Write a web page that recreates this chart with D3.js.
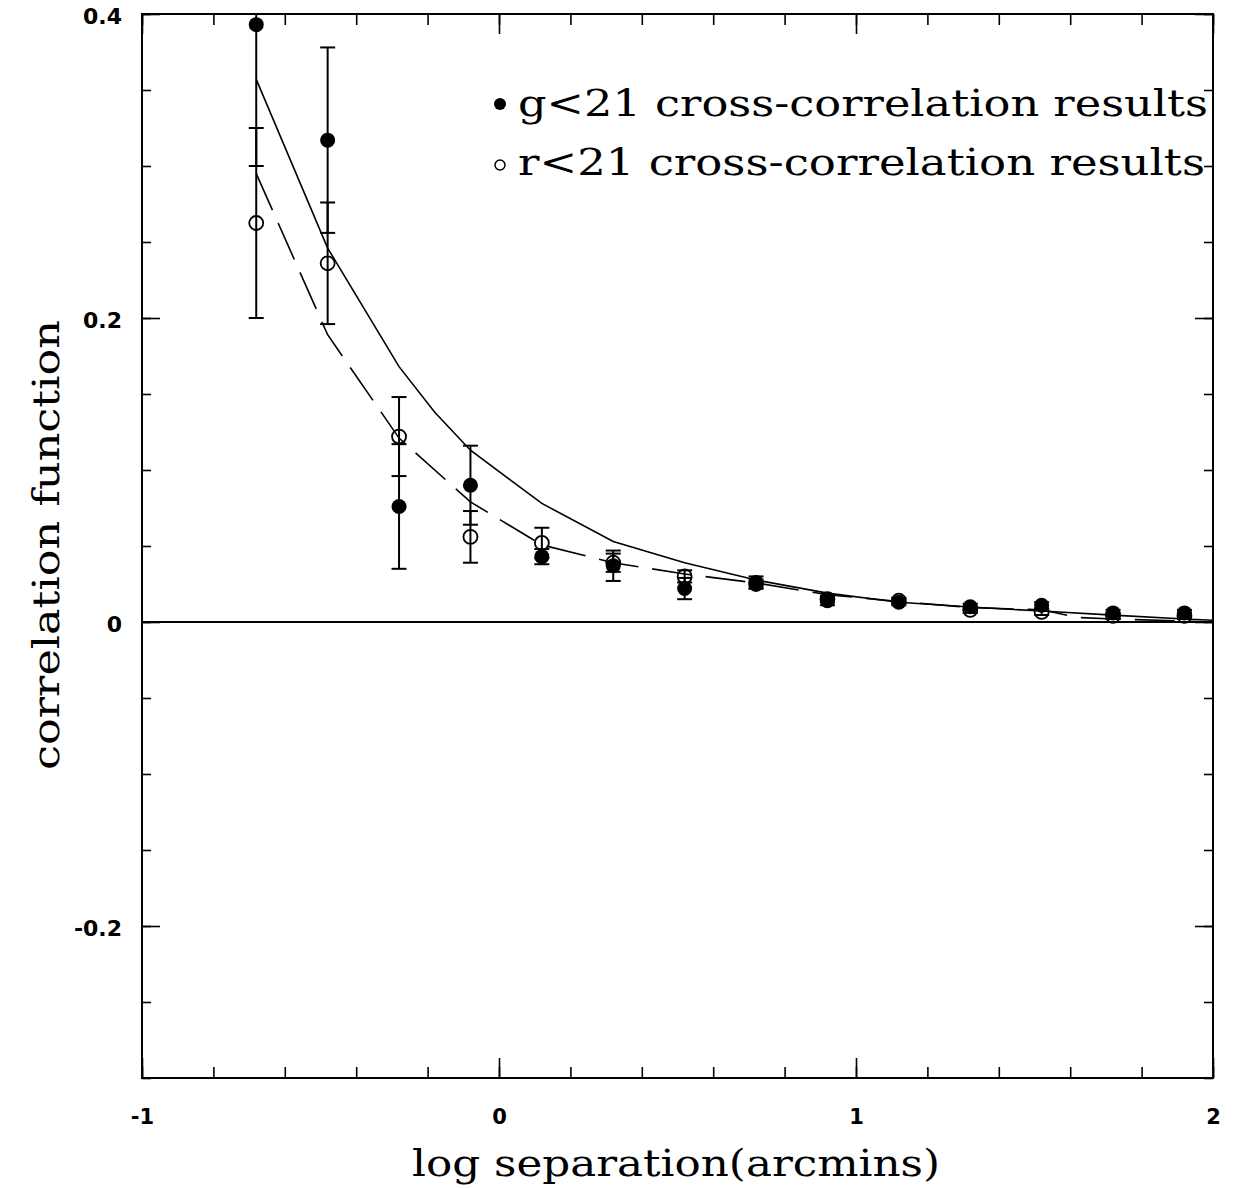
<!DOCTYPE html>
<html>
<head>
<meta charset="utf-8">
<script src="https://cdn.jsdelivr.net/npm/d3@7"></script>
<style>
  html, body { margin: 0; padding: 0; background: #fff; }
  svg { display: block; }
  .tick text { font-family: "DejaVu Sans", sans-serif; font-weight: bold; fill: #000; }
  .tick line { stroke: #000; stroke-width: 1.6; }
  .ttl { font-family: "DejaVu Serif", serif; fill: #000; }
</style>
</head>
<body>
<div id="chart"></div>
<script>
// log separation (arcmin) of the bins
const sepLog = [-0.68, -0.48, -0.28, -0.08, 0.12, 0.32, 0.52, 0.72, 0.92, 1.12, 1.32, 1.52, 1.72, 1.92];

// g<21 cross-correlation (filled)
const gXi  = [0.393, 0.317, 0.076, 0.090, 0.043, 0.037, 0.022, 0.026, 0.014, 0.013, 0.010, 0.011, 0.006, 0.006];
const gErr = [0.093, 0.061, 0.041, 0.026, 0.005, 0.010, 0.007, 0.004, 0.003, 0.002, 0.002, 0.002, 0.002, 0.002];

// r<21 cross-correlation (open)
const rXi  = [0.2625, 0.236, 0.122, 0.056, 0.052, 0.039, 0.030, 0.025, 0.015, 0.014, 0.008, 0.0066, 0.004, 0.004];
const rErr = [0.0625, 0.040, 0.026, 0.017, 0.010, 0.006, 0.004, 0.003, 0.002, 0.002, 0.002, 0.002, 0.002, 0.002];

// model curves (solid = g, dashed = r)
const solidX = [-0.68, -0.48, -0.28, -0.18, -0.08, 0.12, 0.32, 0.52, 0.72, 0.92, 1.12, 1.32, 1.52, 1.72, 1.92, 2.0];
const solidY = [0.357, 0.246, 0.168, 0.138, 0.113, 0.078, 0.053, 0.039, 0.0276, 0.019, 0.013, 0.0099, 0.0072, 0.0045, 0.002, 0.0012];
const dashX  = [-0.68, -0.48, -0.28, -0.08, 0.12, 0.32, 0.52, 0.72, 0.92, 1.12, 1.32, 1.52, 1.62, 1.72, 1.92, 2.0];
const dashY  = [0.295, 0.189, 0.121, 0.079, 0.0507, 0.039, 0.0316, 0.0257, 0.018, 0.0135, 0.0095, 0.008, 0.003, 0.002, 0.0006, 0.0];

const legendLabels = ['g<21 cross-correlation results', 'r<21 cross-correlation results'];
const xMajor = [-1, 0, 1, 2];
const yMajor = [-0.2, 0, 0.2, 0.4];

const W = 1233, H = 1189;
const L = 142, R = 1213, T = 14, B = 1078;

const svg = d3.select('#chart').append('svg')
  .attr('width', W).attr('height', H);

const x = d3.scaleLinear().domain([-1, 2]).range([L, R]);
const y = d3.scaleLinear().domain([-0.3, 0.4]).range([B, T]);

svg.append('defs').append('clipPath').attr('id', 'plotclip')
  .append('rect').attr('x', L).attr('y', T).attr('width', R - L).attr('height', B - T);

// axes: ticks point inwards on all four sides
const noLab = () => '';
const fmt = d => String(d);

function addAxis(axis, tr) {
  const g = svg.append('g').attr('transform', tr).call(axis);
  g.select('.domain').remove();
  return g;
}

// bottom
addAxis(d3.axisBottom(x).tickValues(x.ticks(15)).tickSize(-11).tickFormat(noLab), `translate(0,${B})`);
addAxis(d3.axisBottom(x).tickValues(xMajor).tickSize(-20).tickPadding(31).tickFormat(fmt), `translate(0,${B})`)
  .selectAll('text').style('font-size', '21px');
// top
addAxis(d3.axisTop(x).tickValues(x.ticks(15)).tickSize(-11).tickFormat(noLab), `translate(0,${T})`);
addAxis(d3.axisTop(x).tickValues(xMajor).tickSize(-20).tickFormat(noLab), `translate(0,${T})`);
// left
addAxis(d3.axisLeft(y).tickValues(y.ticks(14)).tickSize(-9).tickFormat(noLab), `translate(${L},0)`);
addAxis(d3.axisLeft(y).tickValues(yMajor).tickSize(-18).tickPadding(20).tickFormat(fmt), `translate(${L},0)`)
  .selectAll('text').style('font-size', '22px').attr('dy', '0.45em');
// right
addAxis(d3.axisRight(y).tickValues(y.ticks(14)).tickSize(-9).tickFormat(noLab), `translate(${R},0)`);
addAxis(d3.axisRight(y).tickValues(yMajor).tickSize(-18).tickFormat(noLab), `translate(${R},0)`);

// frame
svg.append('rect')
  .attr('x', L).attr('y', T).attr('width', R - L).attr('height', B - T)
  .attr('fill', 'none').attr('stroke', '#000').attr('stroke-width', 2);

const plot = svg.append('g').attr('clip-path', 'url(#plotclip)');

// zero line
plot.append('line')
  .attr('x1', L).attr('x2', R).attr('y1', y(0)).attr('y2', y(0))
  .attr('stroke', '#000').attr('stroke-width', 2);

// model curves
const line = d3.line().x(d => x(d[0])).y(d => y(d[1]));
plot.append('path')
  .datum(d3.zip(solidX, solidY))
  .attr('d', line).attr('fill', 'none')
  .attr('stroke', '#000').attr('stroke-width', 1.6);
plot.append('path')
  .datum(d3.zip(dashX, dashY))
  .attr('d', line).attr('fill', 'none')
  .attr('stroke', '#000').attr('stroke-width', 1.6)
  .attr('stroke-dasharray', '40,14');

// error bars
function errBars(vals, errs) {
  const data = d3.zip(sepLog, vals, errs);
  const g = plot.append('g').attr('stroke', '#000').attr('stroke-width', 2);
  g.selectAll('line.v').data(data).join('line').attr('class', 'v')
    .attr('x1', d => x(d[0])).attr('x2', d => x(d[0]))
    .attr('y1', d => y(d[1] - d[2])).attr('y2', d => y(d[1] + d[2]));
  g.selectAll('line.lo').data(data).join('line').attr('class', 'lo')
    .attr('x1', d => x(d[0]) - 7.5).attr('x2', d => x(d[0]) + 7.5)
    .attr('y1', d => y(d[1] - d[2])).attr('y2', d => y(d[1] - d[2]));
  g.selectAll('line.hi').data(data).join('line').attr('class', 'hi')
    .attr('x1', d => x(d[0]) - 7.5).attr('x2', d => x(d[0]) + 7.5)
    .attr('y1', d => y(d[1] + d[2])).attr('y2', d => y(d[1] + d[2]));
}
errBars(rXi, rErr);
errBars(gXi, gErr);

// points
plot.append('g').selectAll('circle').data(d3.zip(sepLog, rXi)).join('circle')
  .attr('cx', d => x(d[0])).attr('cy', d => y(d[1])).attr('r', 7)
  .attr('fill', 'none').attr('stroke', '#000').attr('stroke-width', 1.8);
plot.append('g').selectAll('circle').data(d3.zip(sepLog, gXi)).join('circle')
  .attr('cx', d => x(d[0])).attr('cy', d => y(d[1])).attr('r', 7.5)
  .attr('fill', '#000');

// legend
const leg = svg.append('g');
leg.append('circle').attr('cx', 500).attr('cy', 104).attr('r', 6).attr('fill', '#000');
leg.append('circle').attr('cx', 500).attr('cy', 165).attr('r', 5)
  .attr('fill', 'none').attr('stroke', '#000').attr('stroke-width', 1.5);
leg.selectAll('text').data(legendLabels).join('text')
  .attr('class', 'ttl')
  .attr('x', 518).attr('y', (d, i) => 116 + i * 59)
  .attr('font-size', 37)
  .attr('textLength', (d, i) => i === 0 ? 690 : 687)
  .attr('lengthAdjust', 'spacingAndGlyphs')
  .text(d => d);

// axis titles
svg.append('text').attr('class', 'ttl')
  .attr('x', 412).attr('y', 1176)
  .attr('font-size', 37)
  .attr('textLength', 528).attr('lengthAdjust', 'spacingAndGlyphs')
  .text('log separation(arcmins)');

svg.append('text').attr('class', 'ttl')
  .attr('transform', 'translate(59,770) rotate(-90)')
  .attr('font-size', 37)
  .attr('textLength', 450).attr('lengthAdjust', 'spacingAndGlyphs')
  .text('correlation function');
</script>
</body>
</html>
